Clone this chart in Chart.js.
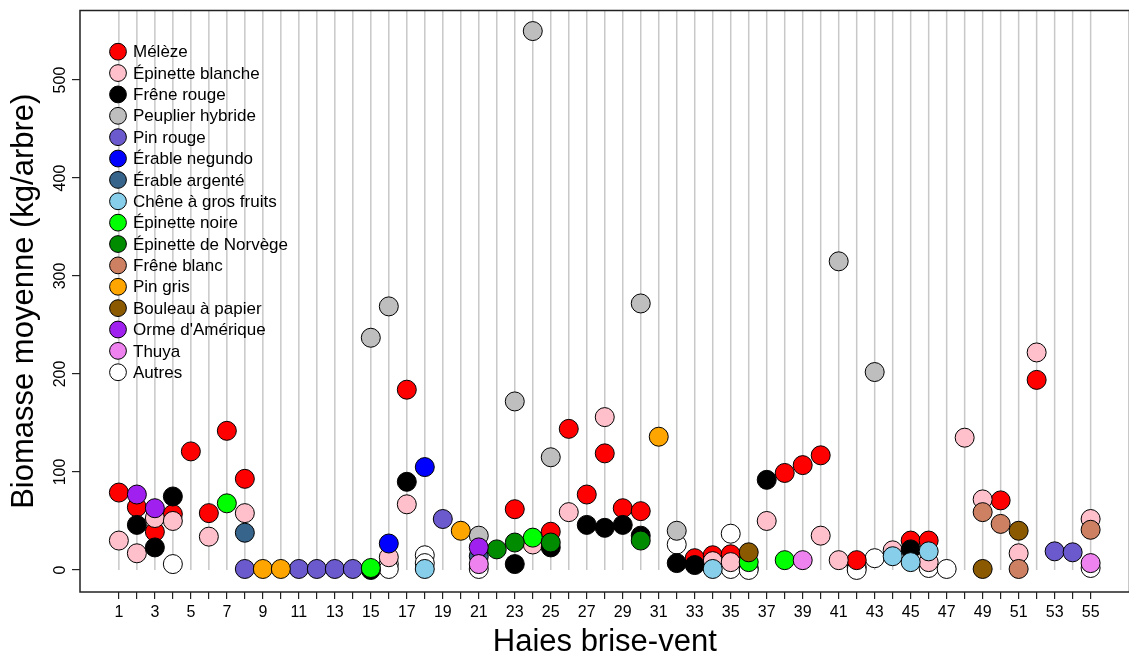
<!DOCTYPE html>
<html>
<head>
<meta charset="utf-8">
<style>
  html, body { margin: 0; padding: 0; background: #fff; overflow: hidden; }
</style>
</head>
<body>
<canvas id="biomasse" width="1140" height="659"></canvas>

<script src="https://cdn.jsdelivr.net/npm/chart.js"></script>
<script>
  // haies brise-vent (axe x) et graduations de l'axe y
  const haies = [1, 2, 3, 4, 5, 6, 7, 8, 9, 10, 11, 12, 13, 14, 15, 16, 17, 18, 19, 20,
    21, 22, 23, 24, 25, 26, 27, 28, 29, 30, 31, 32, 33, 34, 35, 36, 37, 38, 39, 40,
    41, 42, 43, 44, 45, 46, 47, 48, 49, 50, 51, 52, 53, 54, 55];
  const yTicks = [0, 100, 200, 300, 400, 500];

  // biomasse moyenne (kg/arbre) par essence : [haie, valeur]
  const meleze = [[1, 79], [2, 64], [3, 39], [4, 57], [5, 121], [6, 58], [7, 142], [8, 93], [17, 184],
    [23, 62], [25, 39], [26, 144], [27, 77], [28, 119], [29, 63], [30, 60], [33, 12], [34, 15], [35, 16],
    [38, 99], [39, 107], [40, 117], [42, 10], [45, 30], [46, 30], [50, 71], [52, 194]];
  const epinetteBlanche = [[1, 30], [2, 17], [3, 53], [4, 50], [6, 34], [8, 58], [16, 13], [17, 67],
    [24, 26], [26, 59], [28, 156], [34, 9], [35, 8], [37, 50], [40, 35], [41, 10], [44, 20], [46, 8],
    [48, 135], [49, 72], [51, 17], [52, 222], [55, 52]];
  const freneRouge = [[2, 46], [3, 23], [4, 75], [15, 0], [17, 90], [23, 6], [25, 23], [27, 46], [28, 43],
    [29, 46], [30, 35], [32, 7], [33, 5], [37, 92], [45, 21]];
  const peuplierHybride = [[15, 237], [16, 269], [21, 35], [23, 172], [24, 550], [25, 115], [30, 272],
    [32, 40], [41, 315], [43, 202]];
  const pinRouge = [[8, 1], [11, 1], [12, 1], [13, 1], [14, 1], [19, 52], [53, 19], [54, 18]];
  const erableNegundo = [[16, 27], [18, 105]];
  const erableArgente = [[8, 38], [21, 14]];
  const cheneGrosFruits = [[18, 1], [34, 1], [44, 14], [45, 8], [46, 19]];
  const epinetteNoire = [[7, 68], [15, 2], [24, 33], [36, 8], [38, 10]];
  const epinetteNorvege = [[22, 21], [23, 28], [25, 28], [30, 30]];
  const freneBlanc = [[49, 59], [50, 47], [51, 1], [55, 41]];
  const pinGris = [[9, 1], [10, 1], [20, 40], [31, 136]];
  const bouleauPapier = [[36, 18], [49, 1], [51, 40]];
  const ormeAmerique = [[2, 77], [3, 63], [21, 23]];
  const thuya = [[21, 6], [39, 10], [55, 7]];
  const autres = [[4, 6], [16, 6], [16, 1], [18, 15], [18, 7], [21, 1], [32, 26], [35, 37], [35, 1],
    [36, 2], [36, 0], [42, 3], [42, 0], [43, 12], [46, 2], [47, 1], [55, 2]];

  const especes = ["Mélèze", "Épinette blanche", "Frêne rouge", "Peuplier hybride", "Pin rouge",
    "Érable negundo", "Érable argenté", "Chêne à gros fruits", "Épinette noire", "Épinette de Norvège",
    "Frêne blanc", "Pin gris", "Bouleau à papier", "Orme d'Amérique", "Thuya", "Autres"];
  const valeurs = [meleze, epinetteBlanche, freneRouge, peuplierHybride, pinRouge, erableNegundo,
    erableArgente, cheneGrosFruits, epinetteNoire, epinetteNorvege, freneBlanc, pinGris, bouleauPapier,
    ormeAmerique, thuya, autres];
  const couleurs = ["#FF0000", "#FFC0CB", "#000000", "#BEBEBE", "#6A5ACD", "#0000FF", "#36648B",
    "#87CEEB", "#00FF00", "#008B00", "#CD8162", "#FFA500", "#8B5A00", "#A020F0", "#EE82EE", "#FFFFFF"];

  const police = "'Liberation Sans', Arial, sans-serif";

  const datasets = especes.map((nom, i) => ({
    label: nom,
    data: valeurs[i].map(([x, y]) => ({ x, y })),
    backgroundColor: couleurs[i],
    borderColor: "#000",
    borderWidth: 1,
    pointRadius: 9.5,
    pointHoverRadius: 9.5,
    // "Autres" dessous, puis les essences dans l'ordre de la légende
    order: nom === "Autres" ? 99 : especes.length - i
  }));

  const decor = {
    id: "decor",
    beforeDatasetsDraw(chart) {
      const { ctx, chartArea: a, scales: { x, y } } = chart;
      const y0 = y.getPixelForValue(0);
      ctx.save();
      ctx.strokeStyle = "#C8C8C8";
      ctx.lineWidth = 1.5;
      haies.forEach(h => {
        const px = x.getPixelForValue(h);
        ctx.beginPath();
        ctx.moveTo(px, y0);
        ctx.lineTo(px, a.top);
        ctx.stroke();
      });
      ctx.restore();
    },
    afterDraw(chart) {
      const { ctx, chartArea: a, scales: { y } } = chart;
      ctx.save();
      // cadre
      ctx.strokeStyle = "#222";
      ctx.lineWidth = 1.5;
      ctx.strokeRect(a.left, a.top, a.right - a.left, a.bottom - a.top);

      // étiquettes y verticales
      ctx.fillStyle = "#000";
      ctx.font = "16px " + police;
      ctx.textAlign = "center";
      ctx.textBaseline = "middle";
      yTicks.forEach(v => {
        ctx.save();
        ctx.translate(a.left - 19, y.getPixelForValue(v));
        ctx.rotate(-Math.PI / 2);
        ctx.fillText(String(v), 0, 0);
        ctx.restore();
      });

      // légende
      ctx.font = "17px " + police;
      ctx.textAlign = "left";
      chart.data.datasets.forEach((ds, i) => {
        const cy = 51.7 + i * 21.37;
        ctx.beginPath();
        ctx.arc(118, cy, 8.4, 0, Math.PI * 2);
        ctx.fillStyle = ds.backgroundColor;
        ctx.fill();
        ctx.lineWidth = 1;
        ctx.strokeStyle = "#000";
        ctx.stroke();
        ctx.fillStyle = "#000";
        ctx.fillText(ds.label, 133, cy + 1);
      });
      ctx.restore();
    }
  };

  new Chart(document.getElementById("biomasse"), {
    type: "scatter",
    data: { datasets },
    plugins: [decor],
    options: {
      responsive: false,
      animation: false,
      devicePixelRatio: 1,
      layout: { padding: { top: 7, right: 6, left: 0, bottom: 0 } },
      plugins: { legend: { display: false }, tooltip: { enabled: false } },
      scales: {
        x: {
          type: "linear",
          min: -1.16,
          max: 57.16,
          afterBuildTicks: s => { s.ticks = haies.map(v => ({ value: v })); },
          afterFit: s => { s.height = 67; },
          grid: { drawOnChartArea: false, drawTicks: true, tickLength: 7, color: "#222", lineWidth: 1.2 },
          border: { display: false },
          ticks: {
            autoSkip: false,
            maxRotation: 0,
            padding: 4,
            color: "#000",
            font: { family: police, size: 16 },
            callback: v => (v % 2 === 1 ? String(v) : "")
          },
          title: {
            display: true,
            text: "Haies brise-vent",
            color: "#000",
            font: { family: police, size: 31, lineHeight: 1 },
            padding: { top: 0, bottom: 1 }
          }
        },
        y: {
          min: -22.5,
          max: 571,
          afterBuildTicks: s => { s.ticks = yTicks.map(v => ({ value: v })); },
          afterFit: s => { s.width = 80; },
          grid: { drawOnChartArea: false, drawTicks: true, tickLength: 8, color: "#222", lineWidth: 1.2 },
          border: { display: false },
          ticks: { display: false },
          title: {
            display: true,
            text: "Biomasse moyenne (kg/arbre)",
            color: "#000",
            font: { family: police, size: 31, lineHeight: 1 },
            padding: { top: 9, bottom: 0 }
          }
        }
      }
    }
  });
</script>
</body>
</html>
